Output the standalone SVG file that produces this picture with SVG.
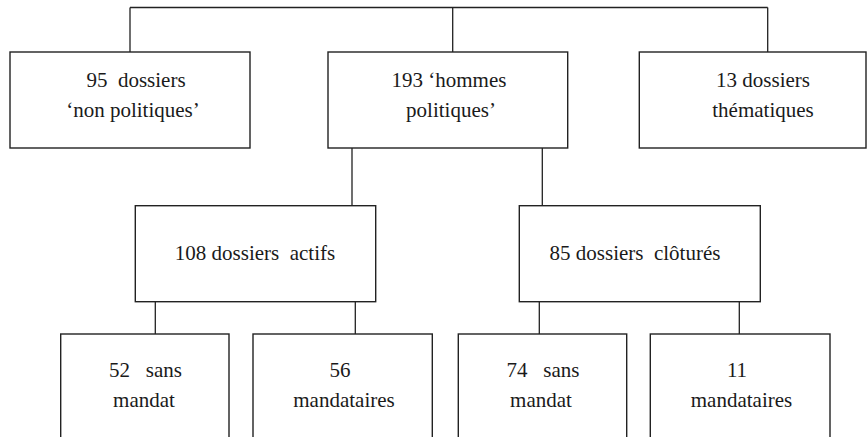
<svg xmlns="http://www.w3.org/2000/svg" width="867" height="437" viewBox="0 0 867 437">
<style>
.box{fill:#fff;stroke:#222;stroke-width:1.4}
.ln{fill:none;stroke:#222;stroke-width:1.3}
</style>
<rect width="867" height="437" fill="#fff"/>
<g id="connectors">
<path class="ln" d="M130,7.5 H767.7 M130,7.5 V52 M452.7,7.5 V52 M767.7,7.5 V52"/>
<path class="ln" d="M352,148 V205.7 M542.3,148 V205.7"/>
<path class="ln" d="M155.3,301.7 V334 M355.3,301.7 V334"/>
<path class="ln" d="M539.3,301.7 V334 M739.3,301.7 V334"/>
</g>
<g font-family="Liberation Serif" font-size="21" fill="#1a1a1a" text-anchor="middle">
<g id="n95">
<rect class="box" x="10" y="52" width="240" height="96"/>
<text x="136" y="87" xml:space="preserve">95  dossiers</text>
<text x="133" y="117">‘non politiques’</text>
</g>
<g id="n193">
<rect class="box" x="328" y="52" width="239.7" height="96"/>
<text x="449" y="87">193 ‘hommes</text>
<text x="451" y="117">politiques’</text>
</g>
<g id="n13">
<rect class="box" x="639.3" y="52" width="226.7" height="96"/>
<text x="763" y="87">13 dossiers</text>
<text x="763" y="117">thématiques</text>
</g>
<g id="n108">
<rect class="box" x="135.3" y="205.7" width="240.4" height="96"/>
<text x="255" y="260" xml:space="preserve">108 dossiers  actifs</text>
</g>
<g id="n85">
<rect class="box" x="519.3" y="205.7" width="241" height="96"/>
<text x="635" y="260" xml:space="preserve">85 dossiers  clôturés</text>
</g>
<g id="n52">
<rect class="box" x="60.7" y="334" width="168.3" height="115"/>
<text x="145.5" y="377" xml:space="preserve">52   sans</text>
<text x="144" y="407">mandat</text>
</g>
<g id="n56">
<rect class="box" x="253" y="334" width="179.3" height="115"/>
<text x="340" y="377">56</text>
<text x="344" y="407">mandataires</text>
</g>
<g id="n74">
<rect class="box" x="458.3" y="334" width="168.4" height="115"/>
<text x="543" y="377" xml:space="preserve">74   sans</text>
<text x="541" y="407">mandat</text>
</g>
<g id="n11">
<rect class="box" x="650.3" y="334" width="179.7" height="115"/>
<text x="737" y="377">11</text>
<text x="741.5" y="407">mandataires</text>
</g>
</g>
</svg>
